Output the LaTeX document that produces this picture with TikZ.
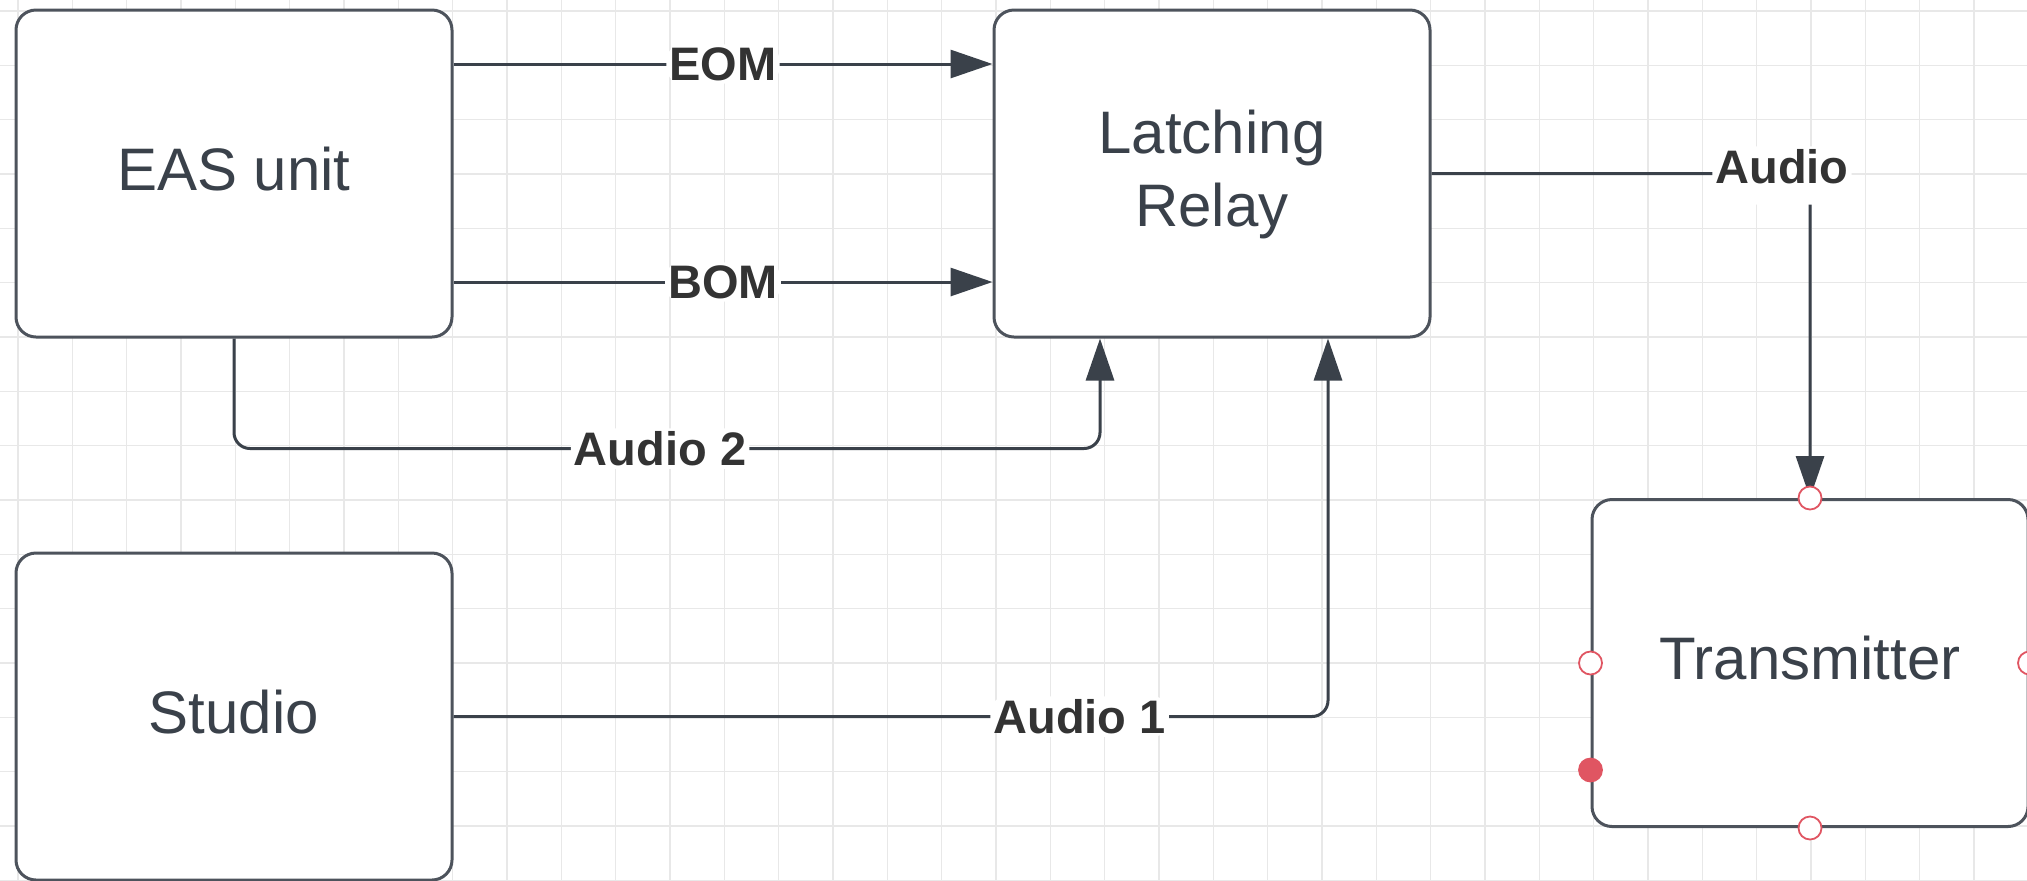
\documentclass[tikz,border=0pt]{standalone}
\usepackage{fontspec}
\setmainfont{Liberation Sans}
\usetikzlibrary{arrows.meta,calc}

\definecolor{slate}{HTML}{3A414A}
\definecolor{edge}{HTML}{4D535C}
\definecolor{gridgray}{HTML}{E8E8E8}
\definecolor{portred}{HTML}{E05562}

\tikzset{
  block/.style={draw=edge, line width=1.5pt, rounded corners=10pt, fill=white,
    minimum width=218pt, minimum height=163.5pt, inner sep=0pt, align=center,
    text=slate, text depth=5pt, font=\fontsize{30}{36.5}\selectfont},
  wire/.style={draw=slate, line width=1.5pt, rounded corners=8pt},
  tip/.style={-{Triangle[length=21pt,width=14pt]}},
  tag/.style={fill=white, inner sep=1.5pt, text=black!80,
    font=\bfseries\fontsize{23.5}{26}\selectfont},
  port/.style={circle, draw=portred, line width=0.9pt, fill=white,
    minimum size=11.5pt, inner sep=0pt},
}

\begin{document}
\begin{tikzpicture}[x=0.5pt, y=-0.5pt]
    \useasboundingbox (0,0) rectangle (2027,880);
    \fill[white] (0,0) rectangle (2027,880);
    % background grid
    \foreach \i in {0,...,36}
      \draw[gridgray, line width=0.75pt] ({18+54.33*\i},0) -- ++(0,880);
    \foreach \j in {0,...,16}
      \draw[gridgray, line width=0.75pt] (0,{11+54.33*\j}) -- ++(2027,0);

    \node[block] (eas) at (234,173.5) {EAS unit};
    \node[block] (relay) at (1212,173.5) {Latching\\Relay};
    \node[block] (studio) at (234,716.5) {Studio};
    \node[block] (tx) at (1810,663) {Transmitter};

    \draw[wire, tip] ($(eas.east)+(0,-109.5)$) -- node[tag] {EOM} ($(relay.west)+(0,-109.5)$);
    \draw[wire, tip] ($(eas.east)+(0,108.5)$) -- node[tag] {BOM} ($(relay.west)+(0,108.5)$);
    \draw[wire, tip] (eas.south) -- ++(0,110) -| node[tag, pos=0.246] {Audio 2} ($(relay.south)+(-112,0)$);
    \draw[wire, tip] (studio.east) -| node[tag, pos=0.358] {Audio 1} ($(relay.south)+(116,0)$);
    \draw[wire, tip] (relay.east) -| node[tag, pos=0.5, anchor=base, xshift=-14pt, yshift=-5pt, text depth=9pt] {Audio} (tx.north);

    % connection points on the transmitter
    \node[port] (pn) at (tx.north) {};
    \node[port] (ps) at (tx.south) {};
    \node[port] (pw) at (tx.west) {};
    \node[port] (pe) at (tx.east) {};
    \node[port, fill=portred] (pf) at ($(tx.west)+(0,107)$) {};
  \end{tikzpicture}
\end{document}
